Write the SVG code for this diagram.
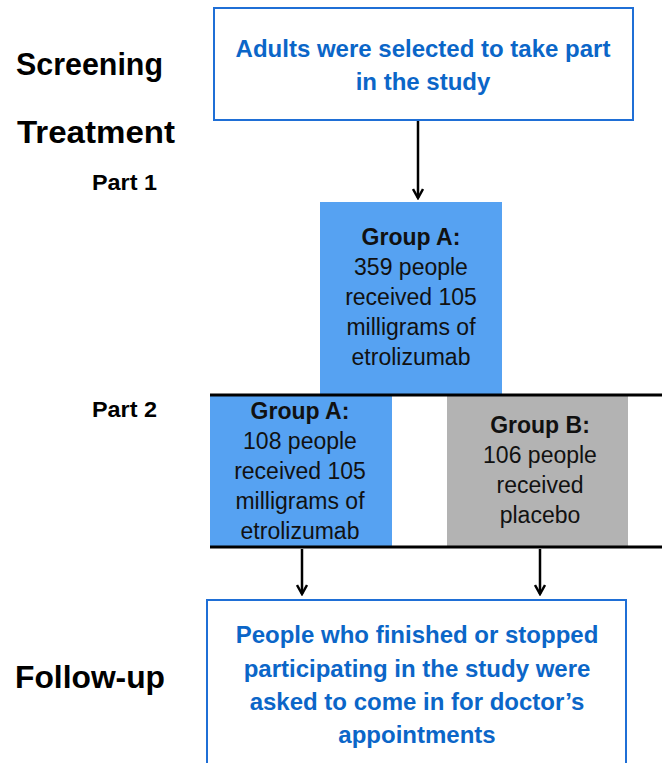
<svg xmlns="http://www.w3.org/2000/svg" width="662" height="763" viewBox="0 0 662 763">
<defs>
<style>
text{font-family:"Liberation Sans",Arial,sans-serif;text-anchor:middle}
.blue{fill:#0B66C8;font-weight:bold;font-size:24px}
.stage{fill:#000;font-weight:bold;font-size:31px;text-anchor:start}
.part{fill:#000;font-weight:bold;font-size:22px;text-anchor:start}
.gt{fill:#111;font-size:23px}
.gb{font-weight:bold}
.conn{stroke:#000;stroke-width:2.5;fill:none}
</style>
<marker id="ah" viewBox="0 0 12 12" refX="10" refY="6" markerWidth="12" markerHeight="12" markerUnits="userSpaceOnUse" orient="auto">
<path d="M1,1 L10,6 L1,11" fill="none" stroke="#000" stroke-width="2.5"/>
</marker>
</defs>
<rect width="662" height="763" fill="#fff"/>
<g id="labels">
<text class="stage" x="16" y="75" textLength="147" lengthAdjust="spacingAndGlyphs">Screening</text>
<text class="stage" x="17" y="143" textLength="158" lengthAdjust="spacingAndGlyphs">Treatment</text>
<text class="part" x="92" y="190" textLength="65" lengthAdjust="spacingAndGlyphs">Part 1</text>
<text class="part" x="92" y="417" textLength="65" lengthAdjust="spacingAndGlyphs">Part 2</text>
<text class="stage" x="15" y="688" textLength="150" lengthAdjust="spacingAndGlyphs">Follow-up</text>
</g>
<g id="screening">
<rect x="214" y="8" width="419" height="112" fill="#fff" stroke="#1F6FD6" stroke-width="2"/>
<text class="blue" x="423" y="57">Adults were selected to take part</text>
<text class="blue" x="423" y="90">in the study</text>
</g>
<g id="part1-groupA">
<rect x="320" y="202" width="182" height="192" fill="#56A2F2"/>
<text class="gt" x="411" y="245"><tspan class="gb">Group A:</tspan></text>
<text class="gt" x="411" y="275">359 people</text>
<text class="gt" x="411" y="305">received 105</text>
<text class="gt" x="411" y="335">milligrams of</text>
<text class="gt" x="411" y="365">etrolizumab</text>
</g>
<g id="part2-groupA">
<rect x="210" y="396" width="182" height="150" fill="#56A2F2"/>
<text class="gt" x="300" y="419"><tspan class="gb">Group A:</tspan></text>
<text class="gt" x="300" y="449">108 people</text>
<text class="gt" x="300" y="479">received 105</text>
<text class="gt" x="300" y="509">milligrams of</text>
<text class="gt" x="300" y="539">etrolizumab</text>
</g>
<g id="part2-groupB">
<rect x="447" y="396" width="181" height="150" fill="#B3B3B3"/>
<text class="gt" x="540" y="433"><tspan class="gb">Group B:</tspan></text>
<text class="gt" x="540" y="463">106 people</text>
<text class="gt" x="540" y="493">received</text>
<text class="gt" x="540" y="523">placebo</text>
</g>
<g id="followup">
<rect x="207" y="600" width="419" height="175" fill="#fff" stroke="#1F6FD6" stroke-width="2"/>
<text class="blue" x="417" y="643">People who finished or stopped</text>
<text class="blue" x="417" y="677">participating in the study were</text>
<text class="blue" x="417" y="710">asked to come in for doctor’s</text>
<text class="blue" x="417" y="743">appointments</text>
</g>
<g id="connectors">
<line x1="210" y1="395" x2="662" y2="395" stroke="#000" stroke-width="3"/>
<line x1="210" y1="547" x2="662" y2="547" stroke="#000" stroke-width="3"/>
<line class="conn" x1="418" y1="121" x2="418" y2="198" marker-end="url(#ah)"/>
<line class="conn" x1="302" y1="549" x2="302" y2="594" marker-end="url(#ah)"/>
<line class="conn" x1="540" y1="549" x2="540" y2="594" marker-end="url(#ah)"/>
</g>
</svg>
